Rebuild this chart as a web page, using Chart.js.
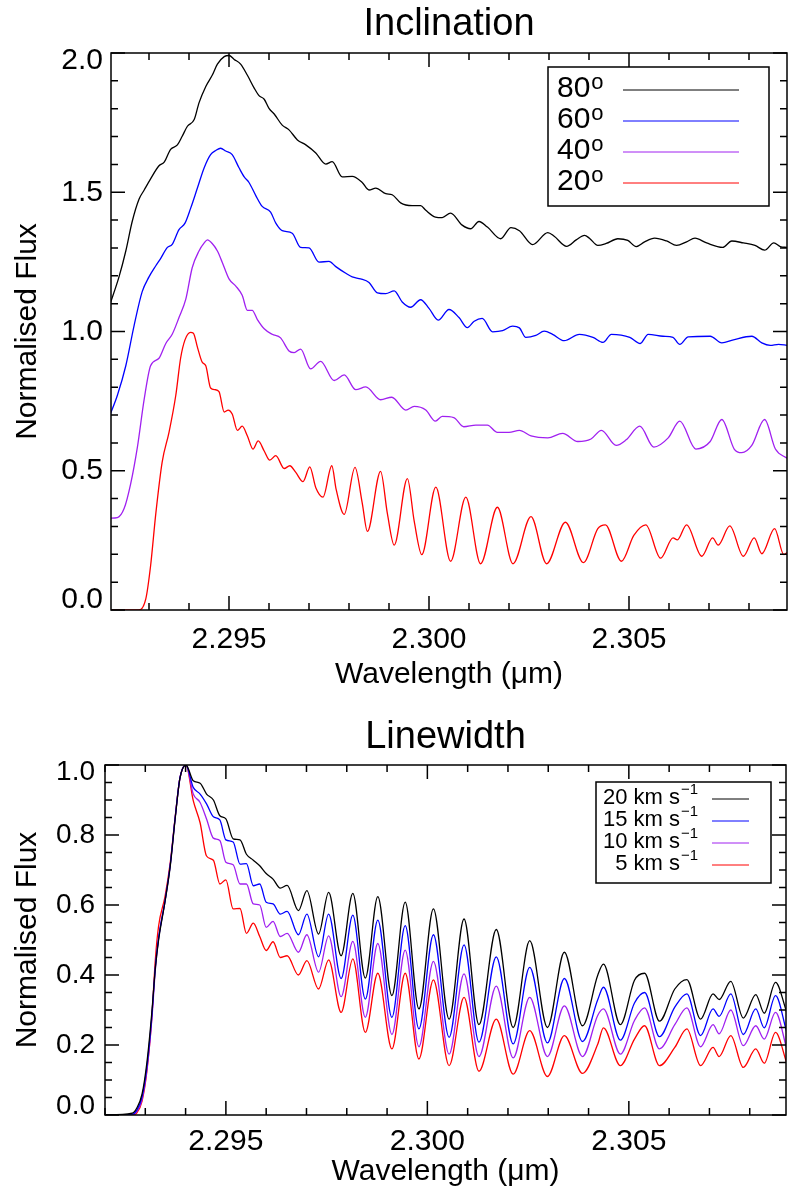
<!DOCTYPE html>
<html>
<head>
<meta charset="utf-8">
<script src="https://cdn.jsdelivr.net/npm/chart.js@4.4.1/dist/chart.umd.min.js"></script>
<style>
html, body { margin: 0; padding: 0; background: #fff; }
#panels { position: relative; width: 788px; height: 1196px; }
#panels canvas { position: absolute; left: 0; }
</style>
</head>
<body>
<div id="panels">
  <canvas id="incl" width="788" height="700" style="top:0"></canvas>
  <canvas id="lw" width="788" height="496" style="top:700px"></canvas>
</div>
<script>
// Inclination panel: one wavelength list per curve (features sit at different places)
const incl80Wave = [2.29202, 2.29225, 2.29242, 2.29258, 2.29275, 2.29288, 2.29304, 2.29325, 2.29338, 2.29354,
  2.29371, 2.29383, 2.29396, 2.29413, 2.29425, 2.29442, 2.29458, 2.29471, 2.29488, 2.29500,
  2.29513, 2.29529, 2.29546, 2.29563, 2.29575, 2.29588, 2.29600, 2.29613, 2.29633, 2.29650,
  2.29671, 2.29692, 2.29717, 2.29742, 2.29758, 2.29783, 2.29808, 2.29833, 2.29850, 2.29867,
  2.29892, 2.29908, 2.29929, 2.29958, 2.29979, 2.29992,
  2.30016, 2.30033, 2.30054, 2.30083, 2.30104, 2.30125, 2.30146, 2.30179, 2.30205, 2.30226,
  2.30259, 2.30297, 2.30313, 2.30344, 2.30368, 2.30389, 2.30401, 2.30422, 2.30443, 2.30472,
  2.30497, 2.30518, 2.30539, 2.30564, 2.30594, 2.30619, 2.30644, 2.30665, 2.30694, 2.30734,
  2.30757, 2.30786, 2.30815, 2.30839, 2.30862, 2.30878, 2.30895];
const incl80Flux = [1.096, 1.196, 1.289, 1.395, 1.475, 1.508, 1.548, 1.595, 1.608, 1.654,
  1.670, 1.701, 1.737, 1.761, 1.821, 1.880, 1.920, 1.960, 1.987, 1.991,
  1.977, 1.960, 1.920, 1.874, 1.847, 1.834, 1.801, 1.781, 1.741, 1.724,
  1.688, 1.670, 1.641, 1.601, 1.610, 1.555, 1.557, 1.535, 1.508, 1.515,
  1.495, 1.491, 1.462, 1.452, 1.452, 1.435,
  1.411, 1.409, 1.425, 1.382, 1.369, 1.395, 1.375, 1.333, 1.373, 1.362,
  1.312, 1.355, 1.342, 1.306, 1.329, 1.345, 1.335, 1.309, 1.316, 1.333,
  1.327, 1.305, 1.322, 1.335, 1.325, 1.309, 1.322, 1.335, 1.318, 1.302,
  1.325, 1.318, 1.309, 1.292, 1.318, 1.305, 1.302];

const incl60Wave = [2.29203, 2.29221, 2.29242, 2.29263, 2.29283, 2.29300, 2.29317, 2.29329, 2.29346, 2.29358,
  2.29375, 2.29390, 2.29404, 2.29421, 2.29438, 2.29454, 2.29467, 2.29479, 2.29492, 2.29508,
  2.29525, 2.29538, 2.29550, 2.29567, 2.29583, 2.29604, 2.29617, 2.29633, 2.29658, 2.29679,
  2.29700, 2.29725, 2.29750, 2.29767, 2.29792, 2.29808, 2.29829, 2.29850, 2.29871, 2.29892,
  2.29913, 2.29933, 2.29954, 2.29979, 2.30000,
  2.30023, 2.30050, 2.30075, 2.30096, 2.30113, 2.30133, 2.30159, 2.30184, 2.30209, 2.30226,
  2.30242, 2.30267, 2.30288, 2.30309, 2.30338, 2.30376, 2.30410, 2.30435, 2.30456, 2.30502,
  2.30528, 2.30548, 2.30585, 2.30610, 2.30627, 2.30648, 2.30703, 2.30732, 2.30761, 2.30807,
  2.30832, 2.30853, 2.30874, 2.30895];
const incl60Flux = [0.702, 0.771, 0.877, 1.023, 1.143, 1.196, 1.236, 1.262, 1.302, 1.313,
  1.366, 1.389, 1.442, 1.515, 1.588, 1.635, 1.650, 1.658, 1.648, 1.635,
  1.588, 1.555, 1.535, 1.488, 1.449, 1.429, 1.389, 1.362, 1.353, 1.302,
  1.300, 1.249, 1.252, 1.233, 1.209, 1.196, 1.189, 1.176, 1.139, 1.136,
  1.146, 1.106, 1.087, 1.114, 1.083,
  1.041, 1.079, 1.050, 1.014, 1.037, 1.047, 0.999, 1.003, 1.019, 1.013,
  0.979, 0.986, 1.001, 0.990, 0.967, 0.990, 0.979, 0.961, 0.990, 0.979,
  0.957, 0.990, 0.983, 0.979, 0.954, 0.981, 0.983, 0.959, 0.970, 0.983,
  0.959, 0.950, 0.954, 0.950];

const incl40Wave = [2.29203, 2.29221, 2.29238, 2.29254, 2.29271, 2.29288, 2.29304, 2.29325, 2.29342, 2.29358,
  2.29375, 2.29392, 2.29408, 2.29425, 2.29438, 2.29446, 2.29458, 2.29471, 2.29483, 2.29500,
  2.29517, 2.29533, 2.29546, 2.29558, 2.29571, 2.29588, 2.29608, 2.29629, 2.29650, 2.29663,
  2.29679, 2.29704, 2.29729, 2.29763, 2.29788, 2.29817, 2.29842, 2.29879, 2.29907, 2.29942,
  2.29963, 2.29992,
  2.30016, 2.30033, 2.30062, 2.30087, 2.30117, 2.30146, 2.30171, 2.30200,
  2.30226, 2.30255, 2.30297, 2.30334, 2.30372, 2.30405, 2.30431, 2.30468, 2.30493, 2.30527,
  2.30562, 2.30598, 2.30627, 2.30667, 2.30703, 2.30732, 2.30763, 2.30782, 2.30807, 2.30839,
  2.30866, 2.30895];
const incl40Flux = [0.330, 0.332, 0.365, 0.452, 0.585, 0.757, 0.877, 0.904, 0.957, 0.990,
  1.050, 1.116, 1.229, 1.289, 1.318, 1.329, 1.316, 1.289, 1.249, 1.189,
  1.163, 1.130, 1.076, 1.076, 1.043, 1.010, 0.990, 0.977, 0.930, 0.924,
  0.937, 0.866, 0.893, 0.824, 0.844, 0.791, 0.801, 0.755, 0.764, 0.718,
  0.731, 0.718,
  0.678, 0.695, 0.691, 0.658, 0.664, 0.664, 0.638, 0.638,
  0.645, 0.625, 0.618, 0.634, 0.605, 0.614, 0.645, 0.591, 0.611, 0.660,
  0.585, 0.618, 0.678, 0.578, 0.605, 0.684, 0.578, 0.565, 0.591, 0.684,
  0.578, 0.545];

const incl20Wave = [2.29202, 2.29275, 2.29292, 2.29304, 2.29317, 2.29333, 2.29350, 2.29367, 2.29379, 2.29390,
  2.29404, 2.29411, 2.29421, 2.29433, 2.29442, 2.29454, 2.29465, 2.29475, 2.29488, 2.29498,
  2.29508, 2.29521, 2.29533, 2.29546, 2.29560, 2.29573, 2.29588, 2.29602, 2.29617, 2.29638,
  2.29652, 2.29667, 2.29685, 2.29702, 2.29717, 2.29735, 2.29757, 2.29768, 2.29788, 2.29815,
  2.29833, 2.29846, 2.29879, 2.29896, 2.29913, 2.29946, 2.29963, 2.29982, 2.30017, 2.30054,
  2.30092, 2.30129, 2.30171, 2.30210, 2.30255, 2.30294, 2.30341, 2.30386, 2.30422, 2.30441,
  2.30481, 2.30512, 2.30542, 2.30579, 2.30610, 2.30621, 2.30644, 2.30682, 2.30709, 2.30723,
  2.30752, 2.30786, 2.30813, 2.30832, 2.30864, 2.30887, 2.30895];
const incl20Flux = [0, 0, 0.040, 0.159, 0.346, 0.532, 0.638, 0.771, 0.904, 0.970,
  0.997, 0.994, 0.944, 0.890, 0.877, 0.797, 0.791, 0.784, 0.711, 0.718,
  0.704, 0.645, 0.660, 0.625, 0.578, 0.607, 0.571, 0.538, 0.554, 0.508,
  0.518, 0.494, 0.461, 0.514, 0.439, 0.405, 0.518, 0.432, 0.343, 0.512,
  0.385, 0.282, 0.498, 0.346, 0.233, 0.472, 0.319, 0.199, 0.441, 0.175,
  0.405, 0.166, 0.369, 0.166, 0.335, 0.166, 0.315, 0.170, 0.292, 0.306,
  0.175, 0.268, 0.306, 0.186, 0.259, 0.252, 0.306, 0.193, 0.259, 0.233,
  0.302, 0.193, 0.259, 0.202, 0.292, 0.199, 0.206];

// Linewidth panel: all four curves share one wavelength grid
const lwWave = [2.29201, 2.29267, 2.29279, 2.29292, 2.29304, 2.29316, 2.29325, 2.29333, 2.29349, 2.29362,
  2.29374, 2.29386, 2.29401,
  2.29419, 2.29436, 2.29452, 2.29469, 2.29485, 2.29500, 2.29518, 2.29535, 2.29551, 2.29568,
  2.29584, 2.29600, 2.29617, 2.29635, 2.29652, 2.29680, 2.29701, 2.29730, 2.29755, 2.29786,
  2.29815, 2.29846, 2.29877, 2.29912, 2.29945, 2.29979, 2.30015,
  2.30054, 2.30091, 2.30128, 2.30171, 2.30213, 2.30254, 2.30298, 2.30340, 2.30385, 2.30423,
  2.30437, 2.30479, 2.30514, 2.30539, 2.30576, 2.30614, 2.30644, 2.30678, 2.30709, 2.30724,
  2.30753, 2.30784, 2.30815, 2.30836, 2.30864, 2.30892];
const lw20Flux = [0, 0.005, 0.020, 0.060, 0.150, 0.290, 0.420, 0.500, 0.610, 0.712,
  0.845, 0.962, 1.0,
  0.955, 0.948, 0.917, 0.900, 0.855, 0.846, 0.789, 0.786, 0.745, 0.728,
  0.712, 0.690, 0.674, 0.648, 0.656, 0.584, 0.641, 0.517, 0.636, 0.455,
  0.633, 0.391, 0.624, 0.341, 0.608, 0.303, 0.589,
  0.274, 0.560, 0.258, 0.530, 0.250, 0.498, 0.250, 0.465, 0.255, 0.400,
  0.431, 0.258, 0.385, 0.405, 0.268, 0.360, 0.387, 0.274, 0.346, 0.330,
  0.382, 0.277, 0.344, 0.291, 0.379, 0.293];
const lw15Flux = [0, 0.002, 0.014, 0.052, 0.138, 0.280, 0.425, 0.505, 0.612, 0.715,
  0.848, 0.963, 1.0,
  0.936, 0.917, 0.889, 0.852, 0.843, 0.786, 0.780, 0.717, 0.718, 0.655,
  0.660, 0.608, 0.603, 0.574, 0.582, 0.515, 0.574, 0.452, 0.574, 0.390,
  0.571, 0.331, 0.557, 0.279, 0.541, 0.246, 0.515,
  0.222, 0.486, 0.208, 0.452, 0.203, 0.422, 0.206, 0.390, 0.210, 0.330,
  0.365, 0.214, 0.320, 0.350, 0.224, 0.308, 0.346, 0.227, 0.303, 0.282,
  0.346, 0.230, 0.303, 0.249, 0.341, 0.236];
const lw10Flux = [0, 0.001, 0.010, 0.045, 0.130, 0.270, 0.415, 0.505, 0.612, 0.715,
  0.848, 0.963, 1.0,
  0.917, 0.893, 0.846, 0.791, 0.784, 0.722, 0.715, 0.660, 0.660, 0.603,
  0.600, 0.536, 0.553, 0.510, 0.519, 0.465, 0.515, 0.408, 0.512, 0.338,
  0.496, 0.279, 0.490, 0.230, 0.471, 0.195, 0.439,
  0.174, 0.403, 0.167, 0.368, 0.163, 0.336, 0.167, 0.312, 0.167, 0.285,
  0.303, 0.174, 0.270, 0.306, 0.189, 0.258, 0.306, 0.195, 0.258, 0.232,
  0.300, 0.198, 0.255, 0.217, 0.293, 0.189];
const lw5Flux = [0, 0, 0.006, 0.040, 0.125, 0.275, 0.445, 0.540, 0.625, 0.722,
  0.850, 0.963, 1.0,
  0.898, 0.835, 0.740, 0.728, 0.660, 0.672, 0.589, 0.590, 0.519, 0.548,
  0.510, 0.470, 0.495, 0.450, 0.455, 0.400, 0.441, 0.360, 0.443, 0.293,
  0.446, 0.236, 0.405, 0.189, 0.405, 0.160, 0.386,
  0.141, 0.336, 0.125, 0.274, 0.117, 0.241, 0.110, 0.227, 0.119, 0.203,
  0.249, 0.141, 0.217, 0.255, 0.141, 0.193, 0.246, 0.141, 0.193, 0.167,
  0.227, 0.136, 0.189, 0.148, 0.236, 0.148];

const inclLabels = ['80', '60', '40', '20'];
const lwLabels = ['20 km s', '15 km s', '10 km s', '5 km s'];
const seriesColors = ['#000000', '#0000ff', '#a020f0', '#ff0000'];

const xTickValues = [2.295, 2.300, 2.305];
const inclYTicks = [0, 0.5, 1.0, 1.5, 2.0];
const lwYTicks = [0, 0.2, 0.4, 0.6, 0.8, 1.0];

const FONT = "'Liberation Sans', Arial, Helvetica, sans-serif";

function series(label, wave, flux, color) {
  return {
    label: label,
    data: wave.map(function (w, i) { return { x: w, y: flux[i] }; }),
    borderColor: color,
    borderWidth: 1.3,
    pointRadius: 0,
    fill: false,
    cubicInterpolationMode: 'monotone'
  };
}

// box round the plot with IDL-style inward ticks on all four sides;
// the end labels of the y axis are pulled inside the frame
const frameTicks = {
  id: 'frameTicks',
  beforeDraw(chart, args, opts) {
    const s = chart.scales.y;
    if (!s.getLabelItems) return;
    const items = s.getLabelItems(chart.chartArea);
    if (!items.length || items[0].shifted) return;
    const first = items[0].options.translation;
    const last = items[items.length - 1].options.translation;
    if (first) first[1] += opts.yEndShift[0];
    if (last) last[1] += opts.yEndShift[1];
    items[0].shifted = true;
  },
  afterDatasetsDraw(chart, args, opts) {
    const ctx = chart.ctx;
    const a = chart.chartArea;
    ctx.save();
    ctx.strokeStyle = '#000';
    ctx.lineWidth = 1.5;
    ctx.beginPath();
    ['x', 'y'].forEach(function (id) {
      const s = chart.scales[id];
      const step = opts[id + 'Minor'];
      const majors = s.ticks.map(function (t) { return t.value; });
      for (let k = Math.ceil(s.min / step - 1e-6); k * step <= s.max + 1e-9; k++) {
        const v = k * step;
        const len = majors.some(function (m) { return Math.abs(m - v) < step / 10; }) ? opts.major : opts.minor;
        const p = s.getPixelForValue(v);
        if (id === 'x') {
          ctx.moveTo(p, a.bottom); ctx.lineTo(p, a.bottom - len);
          ctx.moveTo(p, a.top); ctx.lineTo(p, a.top + len);
        } else {
          ctx.moveTo(a.left, p); ctx.lineTo(a.left + len, p);
          ctx.moveTo(a.right, p); ctx.lineTo(a.right - len, p);
        }
      }
    });
    ctx.stroke();
    ctx.strokeRect(a.left, a.top, a.right - a.left, a.bottom - a.top);
    ctx.restore();
  }
};

// boxed legend with a superscript after each label
const boxLegend = {
  id: 'boxLegend',
  afterDraw(chart, args, o) {
    const ctx = chart.ctx;
    ctx.save();
    ctx.fillStyle = '#fff';
    ctx.fillRect(o.box[0], o.box[1], o.box[2] - o.box[0], o.box[3] - o.box[1]);
    ctx.strokeStyle = '#000';
    ctx.lineWidth = 1.5;
    ctx.strokeRect(o.box[0], o.box[1], o.box[2] - o.box[0], o.box[3] - o.box[1]);
    chart.data.datasets.forEach(function (ds, i) {
      const y = o.rowTop + i * o.rowStep;
      ctx.fillStyle = '#000';
      ctx.textBaseline = 'middle';
      ctx.font = o.size + 'px ' + FONT;
      ctx.textAlign = o.align;
      ctx.fillText(ds.label, o.textX, y);
      const end = o.align === 'right' ? o.textX : o.textX + ctx.measureText(ds.label).width;
      ctx.font = o.supSize + 'px ' + FONT;
      ctx.textAlign = 'left';
      ctx.fillText(o.sup, end + o.supGap, y - o.supRaise);
      ctx.strokeStyle = ds.borderColor;
      ctx.lineWidth = 1;
      ctx.beginPath();
      ctx.moveTo(o.line[0], y + o.lineDy);
      ctx.lineTo(o.line[1], y + o.lineDy);
      ctx.stroke();
    });
    ctx.restore();
  }
};

function panelOptions(p) {
  return {
    responsive: false,
    animation: false,
    events: [],
    layout: { padding: { left: 0, right: p.rightPad, top: 0, bottom: 0 } },
    plugins: {
      legend: { display: false },
      tooltip: { enabled: false },
      title: {
        display: true, text: p.title, fullSize: false, color: '#000',
        font: { family: FONT, size: 38, weight: 'normal' },
        padding: { top: p.titleTop, bottom: p.titleBottom }
      },
      frameTicks: { xMinor: 0.001, yMinor: p.yMinor, major: 14, minor: 7, yEndShift: p.yEndShift },
      boxLegend: p.legend
    },
    scales: {
      x: {
        type: 'linear', min: p.xMin, max: p.xMax,
        grid: { display: false, drawTicks: false }, border: { display: false },
        afterBuildTicks: function (s) { s.ticks = xTickValues.map(function (v) { return { value: v }; }); },
        afterFit: function (s) { s.height = p.xHeight; },
        ticks: {
          color: '#000', font: { family: FONT, size: 30 }, padding: p.xLabelPad,
          maxRotation: 0, autoSkip: false,
          callback: function (v) { return v.toFixed(3); }
        },
        title: {
          display: true, text: 'Wavelength (μm)', color: '#000',
          font: { family: FONT, size: 30 }, padding: { bottom: p.xTitlePad }
        }
      },
      y: {
        type: 'linear', min: 0, max: p.yMax,
        grid: { display: false, drawTicks: false }, border: { display: false },
        afterBuildTicks: function (s) { s.ticks = p.yTicks.map(function (v) { return { value: v }; }); },
        afterFit: function (s) { s.width = p.yWidth; },
        ticks: {
          color: '#000', font: { family: FONT, size: p.yLabelSize }, padding: p.yLabelPad,
          callback: function (v) { return v.toFixed(1); }
        },
        title: {
          display: true, text: 'Normalised Flux', color: '#000',
          font: { family: FONT, size: 30 }, padding: { top: 10 }
        }
      }
    }
  };
}

new Chart(document.getElementById('incl'), {
  type: 'line',
  data: {
    datasets: [
      series(inclLabels[0], incl80Wave, incl80Flux, seriesColors[0]),
      series(inclLabels[1], incl60Wave, incl60Flux, seriesColors[1]),
      series(inclLabels[2], incl40Wave, incl40Flux, seriesColors[2]),
      series(inclLabels[3], incl20Wave, incl20Flux, seriesColors[3])
    ]
  },
  options: panelOptions({
    title: 'Inclination', titleTop: 2, titleBottom: 5.4, rightPad: 1,
    xMin: 2.29205, xMax: 2.30895, xHeight: 90, xLabelPad: 12, xTitlePad: 7,
    yMax: 2.0, yTicks: inclYTicks, yMinor: 0.1, yWidth: 111, yLabelSize: 30, yLabelPad: 8,
    yEndShift: [-10, 8],
    legend: {
      box: [548, 67, 769, 206], textX: 557, align: 'left', size: 30,
      rowTop: 89, rowStep: 31, sup: 'o', supSize: 22, supRaise: 6, supGap: 1,
      line: [623, 739], lineDy: 1
    }
  }),
  plugins: [frameTicks, boxLegend]
});

new Chart(document.getElementById('lw'), {
  type: 'line',
  data: {
    datasets: [
      series(lwLabels[0], lwWave, lw20Flux, seriesColors[0]),
      series(lwLabels[1], lwWave, lw15Flux, seriesColors[1]),
      series(lwLabels[2], lwWave, lw10Flux, seriesColors[2]),
      series(lwLabels[3], lwWave, lw5Flux, seriesColors[3])
    ]
  },
  options: panelOptions({
    title: 'Linewidth', titleTop: 15, titleBottom: 4.4, rightPad: 2,
    xMin: 2.2920, xMax: 2.3089, xHeight: 81, xLabelPad: 9, xTitlePad: 6,
    yMax: 1.0, yTicks: lwYTicks, yMinor: 0.05, yWidth: 105, yLabelSize: 28, yLabelPad: 10,
    yEndShift: [-9, 7],
    legend: {
      box: [596, 82, 771, 183], textX: 680, align: 'right', size: 22,
      rowTop: 98, rowStep: 22, sup: '−1', supSize: 15, supRaise: 8, supGap: 1,
      line: [712, 749], lineDy: 1
    }
  }),
  plugins: [frameTicks, boxLegend]
});
</script>
</body>
</html>
